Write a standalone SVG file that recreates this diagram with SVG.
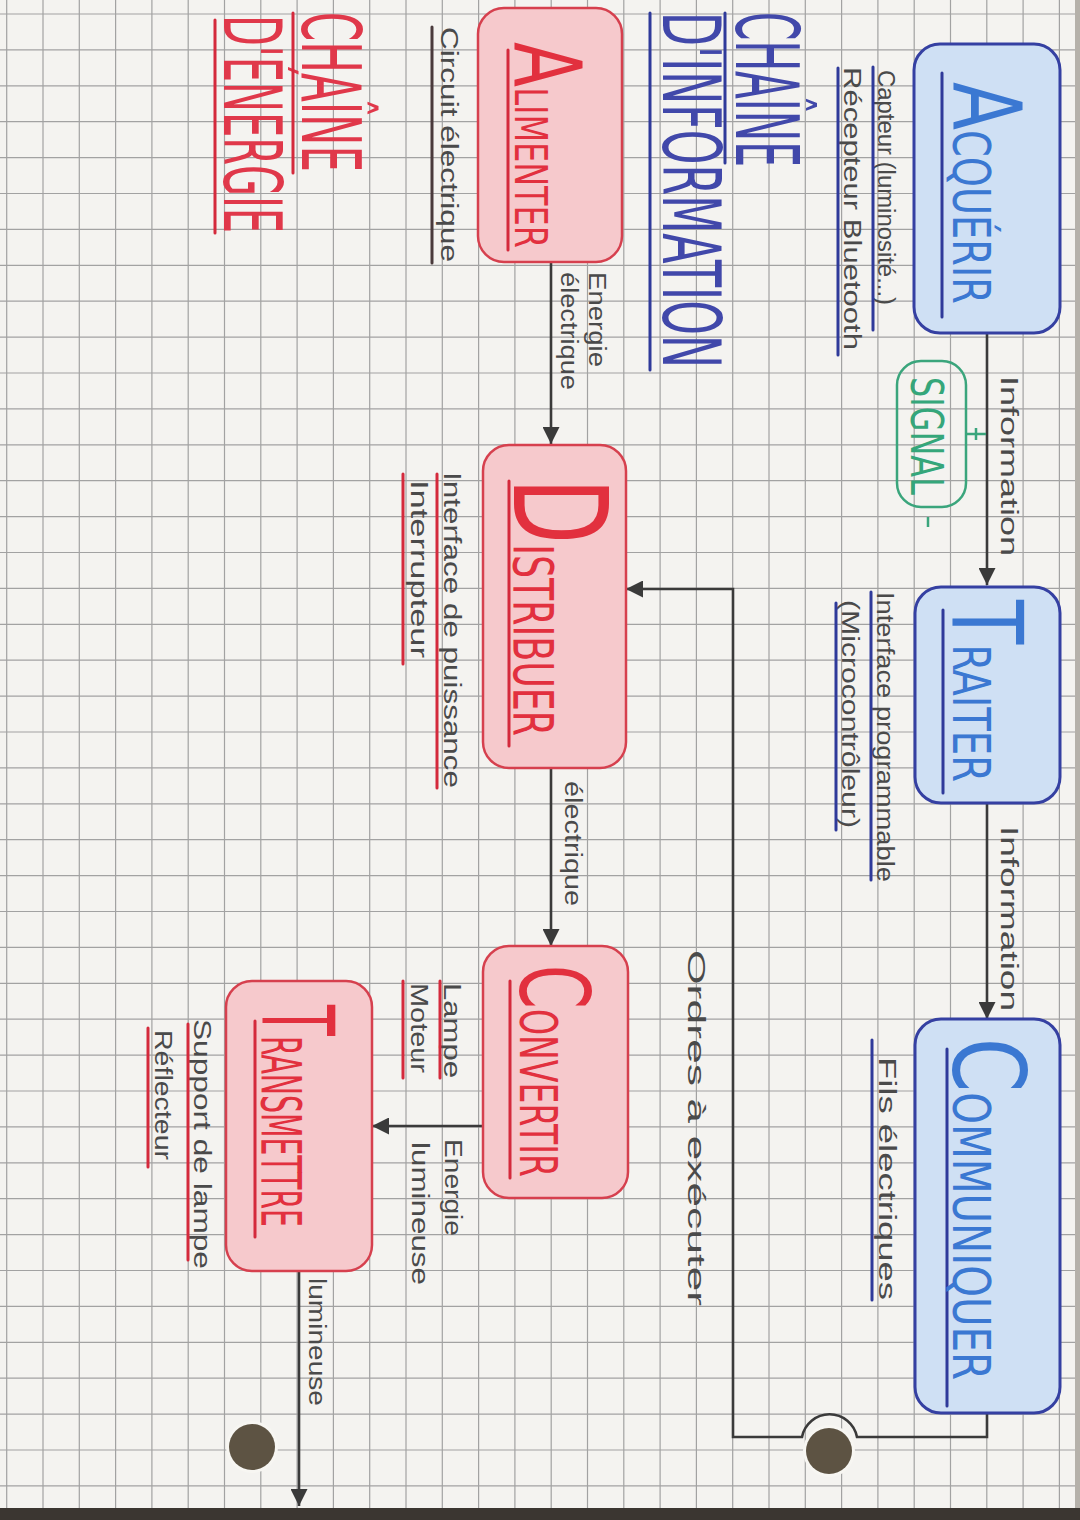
<svg xmlns="http://www.w3.org/2000/svg" width="1080" height="1520" viewBox="0 0 1080 1520">
<defs>
<marker id="ah" viewBox="0 0 10 10" refX="10" refY="5" markerWidth="17" markerHeight="17" markerUnits="userSpaceOnUse" orient="auto"><path d="M0,0 L10,5 L0,10 z" fill="#3a3a3a"/></marker>
<style>
.grid{stroke:#a2a2a2;stroke-width:1.2;fill:none}
.bbox{fill:#cfe0f4;stroke:#3540a2;stroke-width:3}
.rbox{fill:#f6c9cc;stroke:#d6404e;stroke-width:2.5}
.btitle{font-family:"DejaVu Sans","Liberation Sans",sans-serif;fill:#3b78d2}
.rtitle{font-family:"DejaVu Sans","Liberation Sans",sans-serif;fill:#e2303e}
.head{font-family:"DejaVu Sans","Liberation Sans",sans-serif;font-weight:normal}
.note{font-family:"Liberation Sans","DejaVu Sans",sans-serif;font-size:23px;fill:#4a4a4a}
.ul-b{stroke:#2f3a9a;stroke-width:3;stroke-linecap:round}
.ul-r{stroke:#d42a3c;stroke-width:3;stroke-linecap:round}
.conn{stroke:#3a3a3a;stroke-width:2.6;fill:none}
</style>
</defs>
<rect x="0" y="0" width="1080" height="1520" fill="#f4f3f0"/>
<path class="grid" d="M6.7,0V1520M43,0V1520M79.3,0V1520M115.6,0V1520M151.9,0V1520M188.2,0V1520M224.5,0V1520M260.8,0V1520M297.1,0V1520M333.4,0V1520M369.7,0V1520M406,0V1520M442.3,0V1520M478.6,0V1520M514.9,0V1520M551.2,0V1520M587.5,0V1520M623.8,0V1520M660.1,0V1520M696.4,0V1520M732.7,0V1520M769,0V1520M805.3,0V1520M841.6,0V1520M877.9,0V1520M914.2,0V1520M950.5,0V1520M986.8,0V1520M1023.1,0V1520M1059.4,0V1520M0,14H1080M0,49.9H1080M0,85.8H1080M0,121.7H1080M0,157.6H1080M0,193.5H1080M0,229.4H1080M0,265.3H1080M0,301.2H1080M0,337.1H1080M0,373H1080M0,408.9H1080M0,444.8H1080M0,480.7H1080M0,516.6H1080M0,552.5H1080M0,588.4H1080M0,624.3H1080M0,660.2H1080M0,696.1H1080M0,732H1080M0,767.9H1080M0,803.8H1080M0,839.7H1080M0,875.6H1080M0,911.5H1080M0,947.4H1080M0,983.3H1080M0,1019.2H1080M0,1055.1H1080M0,1091H1080M0,1126.9H1080M0,1162.8H1080M0,1198.7H1080M0,1234.6H1080M0,1270.5H1080M0,1306.4H1080M0,1342.3H1080M0,1378.2H1080M0,1414.1H1080M0,1450H1080M0,1485.9H1080"/>
<rect x="0" y="1508" width="1080" height="12" fill="#3b3631"/>
<rect x="1075" y="0" width="5" height="1508" fill="#b5b1aa"/>

<!-- punch holes -->
<circle cx="252" cy="1447" r="26" fill="#f7f6f2"/>
<circle cx="252" cy="1447" r="23" fill="#5d5343"/>
<circle cx="829" cy="1451" r="26" fill="#f7f6f2"/>
<circle cx="829" cy="1451" r="23" fill="#5d5343"/>

<!-- headings -->
<g id="chaine-information">
<text class="head" fill="#4148aa" font-size="88" textLength="155" lengthAdjust="spacingAndGlyphs" transform="translate(736,12) rotate(90)">CHAÎNE</text>
<text class="head" fill="#4148aa" font-size="80" textLength="356" lengthAdjust="spacingAndGlyphs" transform="translate(663,12) rotate(90)">D'INFORMATION</text>
<line class="ul-b" x1="725" y1="13" x2="725" y2="163" stroke-width="5"/>
<line class="ul-b" x1="650" y1="13" x2="650" y2="370" stroke-width="5"/>
</g>
<g id="chaine-energie">
<text class="head" fill="#e0384a" font-size="82" textLength="160" lengthAdjust="spacingAndGlyphs" transform="translate(302,12) rotate(90)">CHAÎNE</text>
<text class="head" fill="#e0384a" font-size="80" textLength="218" lengthAdjust="spacingAndGlyphs" transform="translate(224,15) rotate(90)">D'ÉNERGIE</text>
<line class="ul-r" x1="293" y1="13" x2="293" y2="173" stroke-width="4"/>
<line class="ul-r" x1="215" y1="20" x2="215" y2="233" stroke-width="4"/>
</g>

<!-- connectors -->
<g id="connectors">
<path class="conn" d="M987,333V585" marker-end="url(#ah)"/>
<path class="conn" d="M987,803V1019" marker-end="url(#ah)"/>
<path class="conn" d="M987,1413V1437H857A28,28 0 0 0 802,1437H733V589H626" marker-end="url(#ah)"/>
<path class="conn" d="M551,262V444" marker-end="url(#ah)"/>
<path class="conn" d="M551,768V946" marker-end="url(#ah)"/>
<path class="conn" d="M483,1126H372" marker-end="url(#ah)"/>
<path class="conn" d="M299,1271V1506" marker-end="url(#ah)"/>
<text class="note" font-size="25" textLength="180" lengthAdjust="spacingAndGlyphs" transform="translate(1001,376) rotate(90)">Information</text>
<text class="note" font-size="25" textLength="185" lengthAdjust="spacingAndGlyphs" transform="translate(1001,826) rotate(90)">Information</text>
<text class="note" textLength="95" lengthAdjust="spacingAndGlyphs" transform="translate(589,272) rotate(90)">Energie</text>
<text class="note" textLength="118" lengthAdjust="spacingAndGlyphs" transform="translate(561,272) rotate(90)">électrique</text>
<text class="note" textLength="125" lengthAdjust="spacingAndGlyphs" transform="translate(565,781) rotate(90)">électrique</text>
<text class="note" font-size="30" textLength="356" lengthAdjust="spacingAndGlyphs" transform="translate(688,950) rotate(90)">Ordres à exécuter</text>
<text class="note" textLength="97" lengthAdjust="spacingAndGlyphs" transform="translate(445,1139) rotate(90)">Energie</text>
<text class="note" textLength="143" lengthAdjust="spacingAndGlyphs" transform="translate(412,1142) rotate(90)">lumineuse</text>
<text class="note" textLength="128" lengthAdjust="spacingAndGlyphs" transform="translate(309,1278) rotate(90)">lumineuse</text>
</g>

<!-- information chain -->
<g id="acquerir">
<rect class="bbox" x="914" y="44" width="146" height="289" rx="26"/>
<line class="ul-b" x1="942" y1="73" x2="942" y2="317"/>
<text class="btitle" font-size="52" textLength="222" lengthAdjust="spacingAndGlyphs" transform="translate(953,82) rotate(90)"><tspan font-size="95">A</tspan>CQUÉRIR</text>
<text class="note" textLength="235" lengthAdjust="spacingAndGlyphs" transform="translate(878,70) rotate(90)">Capteur (luminosité...)</text>
<text class="note" textLength="283" lengthAdjust="spacingAndGlyphs" transform="translate(844,67) rotate(90)">Récepteur Bluetooth</text>
<line class="ul-b" x1="873" y1="67" x2="873" y2="330"/>
<line class="ul-b" x1="838" y1="68" x2="838" y2="355"/>
</g>
<g id="signal">
<rect x="897" y="361" width="69" height="146" rx="24" fill="none" stroke="#3aa57c" stroke-width="2.5"/>
<text font-family="DejaVu Sans, sans-serif" font-size="44" fill="#35a67a" textLength="118" lengthAdjust="spacingAndGlyphs" transform="translate(911,377) rotate(90)">SIGNAL</text>
<path d="M966,434H986M976,428V440M928,517V527" stroke="#3aa57c" stroke-width="2.5" fill="none"/>
</g>
<g id="traiter">
<rect class="bbox" x="915" y="587" width="145" height="216" rx="26"/>
<line class="ul-b" x1="943" y1="610" x2="943" y2="793"/>
<text class="btitle" font-size="52" textLength="182" lengthAdjust="spacingAndGlyphs" transform="translate(953,600) rotate(90)"><tspan font-size="98">T</tspan>RAITER</text>
<text class="note" textLength="290" lengthAdjust="spacingAndGlyphs" transform="translate(877,592) rotate(90)">Interface programmable</text>
<text class="note" textLength="228" lengthAdjust="spacingAndGlyphs" transform="translate(842,600) rotate(90)">(Microcontrôleur)</text>
<line class="ul-b" x1="871" y1="592" x2="871" y2="880"/>
<line class="ul-b" x1="836" y1="603" x2="836" y2="830"/>
</g>
<g id="communiquer">
<rect class="bbox" x="915" y="1019" width="145" height="394" rx="26"/>
<line class="ul-b" x1="947" y1="1049" x2="947" y2="1406"/>
<text class="btitle" font-size="52" textLength="342" lengthAdjust="spacingAndGlyphs" transform="translate(953,1038) rotate(90)"><tspan font-size="100">C</tspan>OMMUNIQUER</text>
<text class="note" textLength="243" lengthAdjust="spacingAndGlyphs" transform="translate(879,1057) rotate(90)">Fils électriques</text>
<line class="ul-b" x1="872" y1="1040" x2="872" y2="1300"/>
</g>

<!-- energy chain -->
<g id="alimenter">
<rect class="rbox" x="478" y="8" width="144" height="254" rx="26"/>
<line class="ul-r" x1="508" y1="50" x2="508" y2="250"/>
<text class="rtitle" font-size="45" textLength="206" lengthAdjust="spacingAndGlyphs" transform="translate(515,42) rotate(90)"><tspan font-size="93">A</tspan>LIMENTER</text>
<text class="note" textLength="235" lengthAdjust="spacingAndGlyphs" transform="translate(441,27) rotate(90)">Circuit électrique</text>
<line x1="432" y1="27" x2="432" y2="263" stroke="#4a3a3c" stroke-width="3" stroke-linecap="round"/>
</g>
<g id="distribuer">
<rect class="rbox" x="483" y="445" width="143" height="323" rx="26"/>
<line class="ul-r" x1="509" y1="481" x2="509" y2="746"/>
<text class="rtitle" font-size="55" textLength="258" lengthAdjust="spacingAndGlyphs" transform="translate(514,478) rotate(90)"><tspan font-size="130">D</tspan>ISTRIBUER</text>
<text class="note" textLength="316" lengthAdjust="spacingAndGlyphs" transform="translate(444,472) rotate(90)">Interface de puissance</text>
<text class="note" textLength="178" lengthAdjust="spacingAndGlyphs" transform="translate(411,480) rotate(90)">Interrupteur</text>
<line class="ul-r" x1="437" y1="474" x2="437" y2="788"/>
<line class="ul-r" x1="403" y1="474" x2="403" y2="664"/>
</g>
<g id="convertir">
<rect class="rbox" x="483" y="946" width="145" height="252" rx="26"/>
<line class="ul-r" x1="510" y1="981" x2="510" y2="1178"/>
<text class="rtitle" font-size="51" textLength="212" lengthAdjust="spacingAndGlyphs" transform="translate(520,965) rotate(90)"><tspan font-size="97">C</tspan>ONVERTIR</text>
<text class="note" textLength="95" lengthAdjust="spacingAndGlyphs" transform="translate(444,983) rotate(90)">Lampe</text>
<text class="note" textLength="90" lengthAdjust="spacingAndGlyphs" transform="translate(411,983) rotate(90)">Moteur</text>
<line class="ul-r" x1="440" y1="981" x2="440" y2="1078"/>
<line class="ul-r" x1="403" y1="981" x2="403" y2="1078"/>
</g>
<g id="transmettre">
<rect class="rbox" x="226" y="981" width="146" height="290" rx="26"/>
<line class="ul-r" x1="255" y1="1021" x2="255" y2="1237"/>
<text class="rtitle" font-size="56" textLength="222" lengthAdjust="spacingAndGlyphs" transform="translate(262,1005) rotate(90)"><tspan font-size="100">T</tspan>RANSMETTRE</text>
<text class="note" textLength="250" lengthAdjust="spacingAndGlyphs" transform="translate(194,1019) rotate(90)">Support de lampe</text>
<text class="note" textLength="130" lengthAdjust="spacingAndGlyphs" transform="translate(155,1030) rotate(90)">Réflecteur</text>
<line class="ul-r" x1="188" y1="1024" x2="188" y2="1260"/>
<line class="ul-r" x1="148" y1="1028" x2="148" y2="1167"/>
</g>
</svg>
